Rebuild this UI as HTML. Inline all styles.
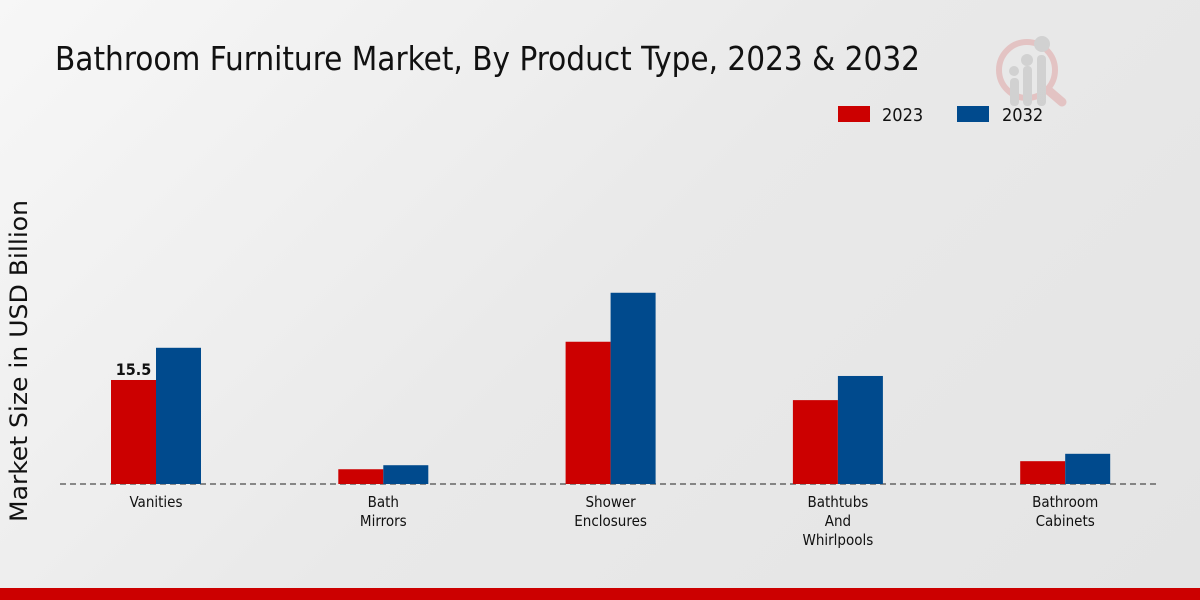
<!DOCTYPE html>
<html><head><meta charset="utf-8"><style>
html,body{margin:0;padding:0}
body{width:1200px;height:600px;overflow:hidden;background:linear-gradient(135deg,#f7f7f7 0%,#e9e9e9 50%,#e4e4e4 100%);font-family:"DejaVu Sans Condensed","Liberation Sans Narrow","Liberation Sans",sans-serif;position:relative}
svg{position:absolute;left:0;top:0}
text{font-family:"DejaVu Sans Condensed","Liberation Sans Narrow","Liberation Sans",sans-serif}
</style></head><body>
<svg id="chart" width="1200" height="600">
<text x="55" y="70" font-size="33" textLength="865" lengthAdjust="spacingAndGlyphs" fill="#111">Bathroom Furniture Market, By Product Type, 2023 &amp; 2032</text>
<g opacity="0.5">
<circle cx="1027" cy="70" r="28" fill="none" stroke="#e0a0a0" stroke-width="6"/>
<line x1="1048" y1="90" x2="1062" y2="102" stroke="#e0a0a0" stroke-width="9" stroke-linecap="round"/>
<rect x="1010" y="78" width="9" height="28" rx="4" fill="#bbb"/>
<rect x="1023" y="66" width="9" height="40" rx="4" fill="#bbb"/>
<rect x="1037" y="55" width="9" height="51" rx="4" fill="#bbb"/>
<circle cx="1014" cy="71" r="5" fill="#bbb"/><circle cx="1027" cy="60" r="6" fill="#bbb"/><circle cx="1042" cy="44" r="8" fill="#bbb"/>
</g>
<g>
<rect x="838" y="106" width="32" height="16" fill="#cc0000"/>
<text x="882" y="121" font-size="18" fill="#111">2023</text>
<rect x="957" y="106" width="32" height="16" fill="#004a8d"/>
<text x="1002" y="121" font-size="18" fill="#111">2032</text>
</g>
<text transform="translate(27,361) rotate(-90)" text-anchor="middle" font-size="24" textLength="322" lengthAdjust="spacingAndGlyphs" fill="#111">Market Size in USD Billion</text>
<line x1="60" y1="484" x2="1160" y2="484" stroke="#222" stroke-dasharray="6,4" stroke-width="1"/>
<g id="bars"></g>
<rect x="0" y="588" width="1200" height="12" fill="#cc0000"/>
</svg>
<script>
const categories=[["Vanities"],["Bath","Mirrors"],["Shower","Enclosures"],["Bathtubs","And","Whirlpools"],["Bathroom","Cabinets"]];
const values2023=[15.5,2.2,21.2,12.5,3.4];
const values2032=[20.3,2.8,28.5,16.1,4.5];
const labels2023=["15.5",null,null,null,null];
const baseY=484, pxPer=6.71, x0=156, step=227.3, bw=45;
function y(v){return baseY-v*pxPer;}
function cx(i){return x0+i*step;}
const g=document.getElementById('bars');
const NS="http://www.w3.org/2000/svg";
categories.forEach((c,i)=>{
  const r=document.createElementNS(NS,'rect');
  r.setAttribute('x',cx(i)-bw);r.setAttribute('y',y(values2023[i]));r.setAttribute('width',bw);r.setAttribute('height',baseY-y(values2023[i]));r.setAttribute('fill','#cc0000');
  
  
  g.appendChild(r);
  const b=document.createElementNS(NS,'rect');
  b.setAttribute('x',cx(i));b.setAttribute('y',y(values2032[i]));b.setAttribute('width',bw);b.setAttribute('height',baseY-y(values2032[i]));b.setAttribute('fill','#004a8d');
  
  
  g.appendChild(b);
  if(labels2023[i]){
    const t=document.createElementNS(NS,'text');
    t.setAttribute('x',cx(i)-bw/2);t.setAttribute('y',y(values2023[i])-5);t.setAttribute('text-anchor','middle');t.setAttribute('font-size','16');t.setAttribute('font-weight','bold');t.setAttribute('fill','#111');
    t.textContent=labels2023[i];
    
    
    g.appendChild(t);
  }
  c.forEach((line,j)=>{
    const t=document.createElementNS(NS,'text');
    t.setAttribute('x',cx(i));t.setAttribute('y',507+j*19);t.setAttribute('text-anchor','middle');t.setAttribute('font-size','15');t.setAttribute('fill','#111');
    t.textContent=line;
    
    
    g.appendChild(t);
  });
});
</script>
</body></html>
